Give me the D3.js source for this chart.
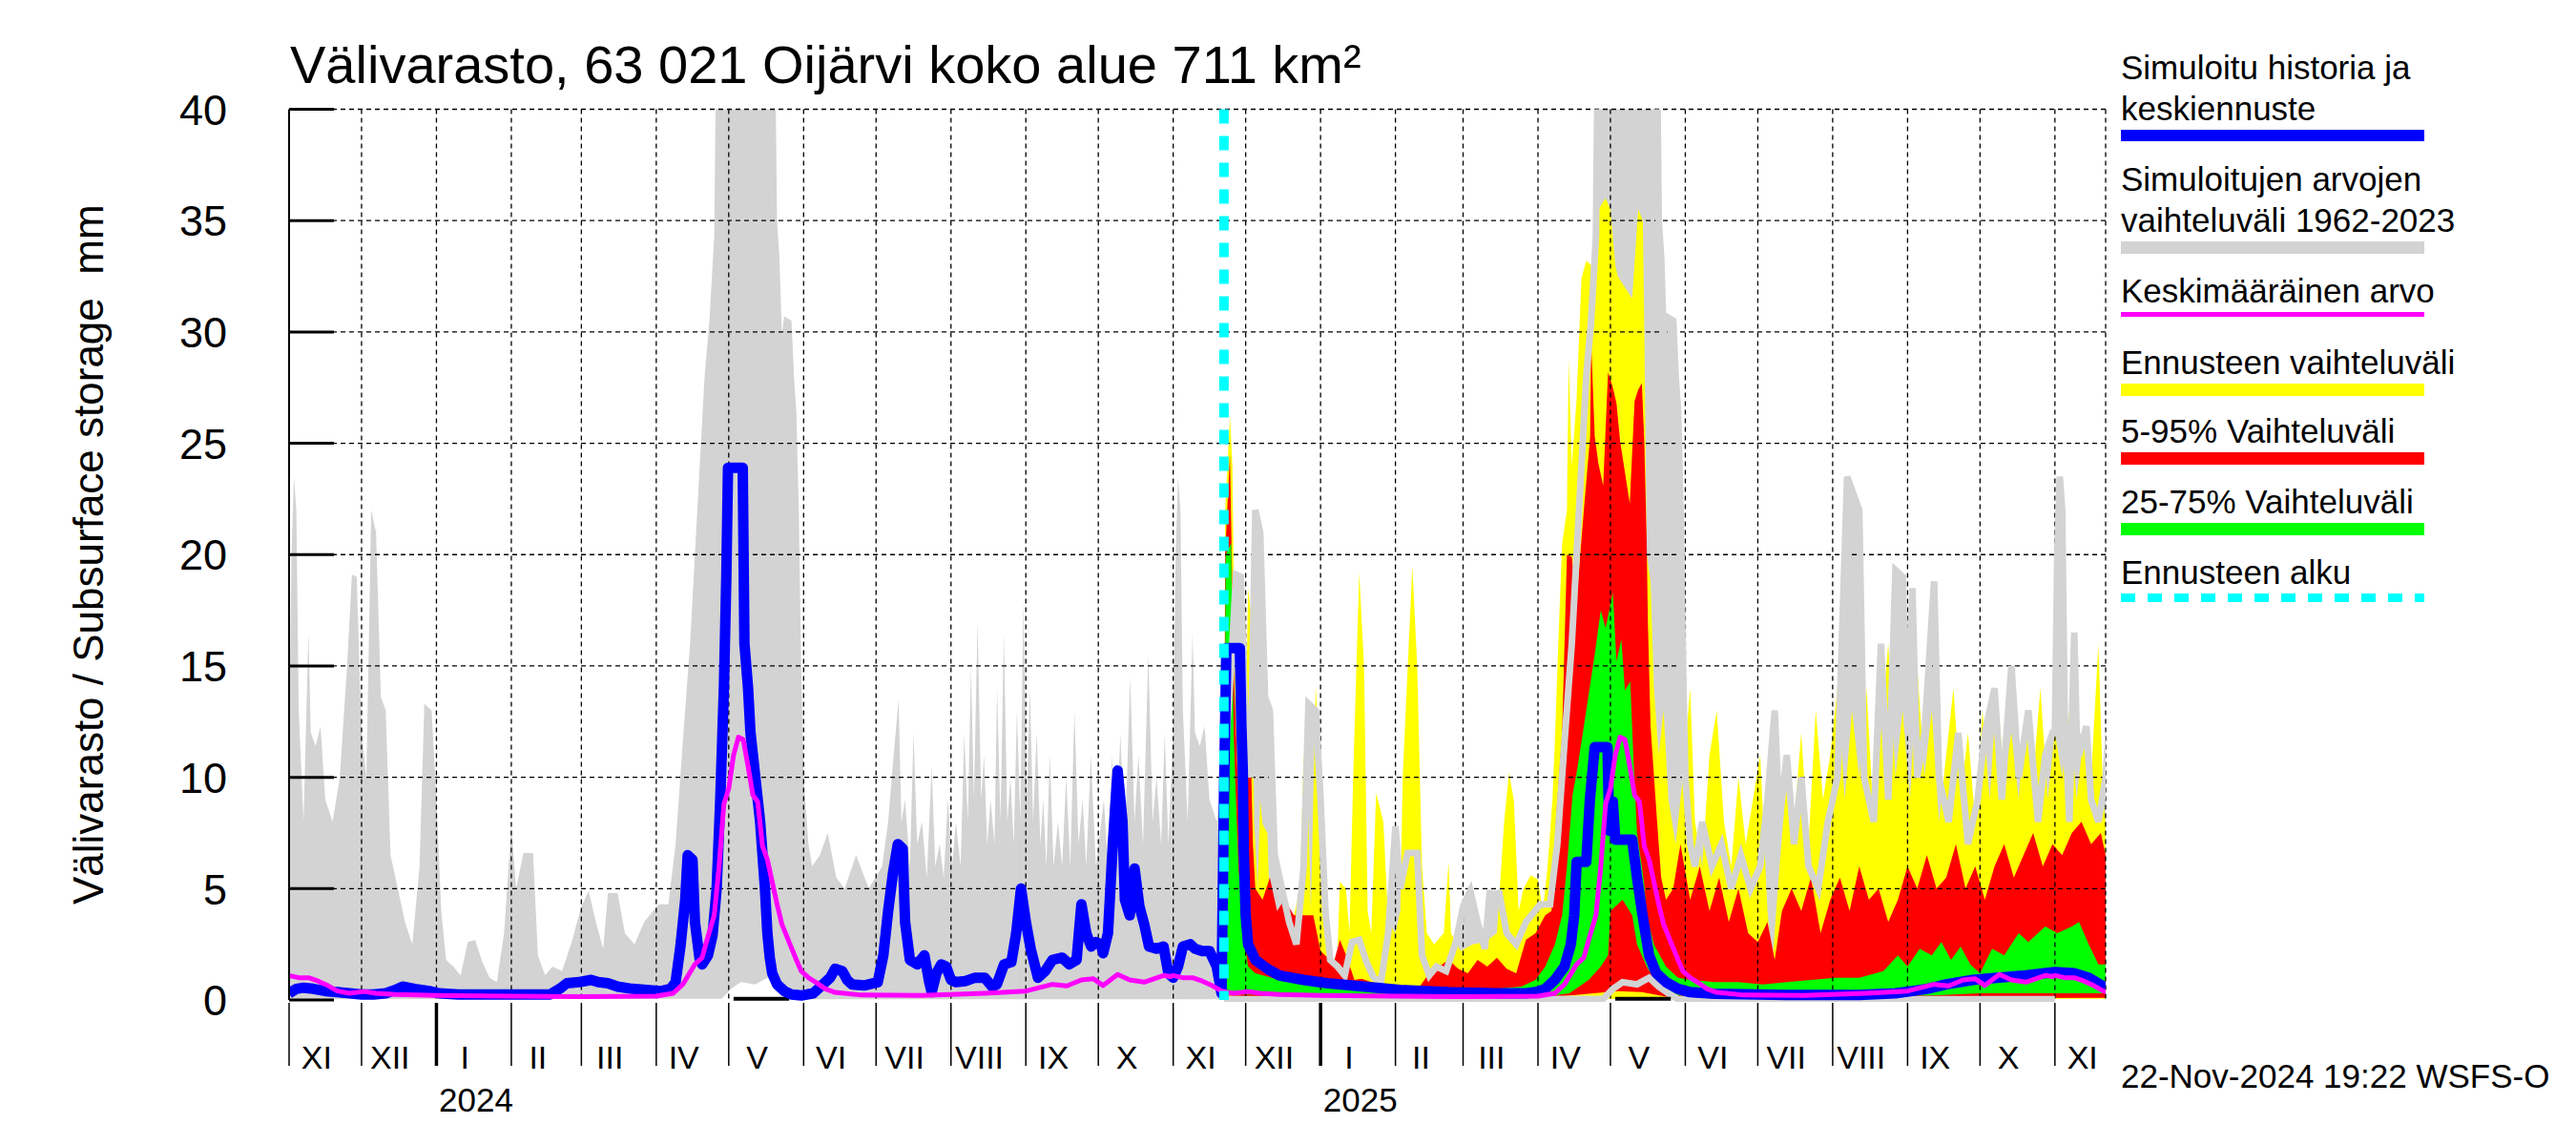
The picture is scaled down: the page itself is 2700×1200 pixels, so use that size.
<!DOCTYPE html>
<html><head><meta charset="utf-8">
<script src="https://cdn.jsdelivr.net/npm/d3@7/dist/d3.min.js"></script>
<style>body{margin:0;background:#fff}svg{display:block}text{font-family:"Liberation Sans",Arial,Helvetica,sans-serif;fill:#000;white-space:pre}</style>
</head><body><svg id="c" width="2700" height="1200"></svg>
<script>
// ---------------- DATA ----------------
const titleText = "Välivarasto, 63 021 Oijärvi koko alue 711 km²";
const yTitle = "Välivarasto / Subsurface storage  mm";
const stamp = "22-Nov-2024 19:22 WSFS-O";
const yTicks = [0,5,10,15,20,25,30,35,40];
const monthNames = ["I","II","III","IV","V","VI","VII","VIII","IX","X","XI","XII"];
const forecastStartDay = 387;           // days after 1 Nov 2023
const legendLabels = [
  ["Simuloitu historia ja","keskiennuste"],
  ["Simuloitujen arvojen","vaihteluväli 1962-2023"],
  ["Keskimääräinen arvo"],
  ["Ennusteen vaihteluväli"],
  ["5-95% Vaihteluväli"],
  ["25-75% Vaihteluväli"],
  ["Ennusteen alku"]
];
// range of simulated values, Nov–early June (month, day, value), repeats each season
const grayMaxWinter = [[11,1,12],[11,2,20],[11,3,23.5],[11,4,22],[11,5,13],[11,7,8],[11,9,16.5],[11,10,12],[11,12,11.4],[11,14,12.3],[11,16,9],[11,19,8],[11,22,10],[11,25,15],[11,27,19.1],[11,29,19],[12,1,12],[12,3,10],[12,5,22],[12,7,21],[12,9,13.6],[12,11,13],[12,13,6.5],[12,16,5],[12,19,3.5],[12,22,2.5],[12,25,6],[12,27,13.3],[12,30,13],[1,1,9],[1,3,4],[1,5,1.8],[1,8,1.5],[1,11,1.1],[1,14,2.6],[1,17,2.7],[1,20,1.7],[1,23,1.0],[1,26,0.8],[1,29,3],[2,1,7.8],[2,3,5],[2,6,6.6],[2,10,6.6],[2,12,2],[2,15,1.1],[2,18,1.5],[2,22,1.3],[2,26,2.6],[3,1,4.2],[3,4,4.9],[3,7,3.5],[3,10,2.3],[3,12,4.8],[3,16,4.8],[3,19,3],[3,23,2.5],[3,27,3.5],[4,2,4.3],[4,6,4.3],[4,9,7],[4,12,11.6],[4,15,16],[4,17,20],[4,19,24],[4,21,28],[4,23,30.5],[4,24,32.4],[4,25,34.3],[4,26,45],[5,20,45],[5,21,35],[5,22,33.3],[5,23,29.9],[5,24,30.7],[5,27,30.5],[5,28,28],[5,29,26.4],[5,30,22],[5,31,15],[6,1,10],[6,3,7]];
// summer–autumn 2024 upper edge (day after 1 Nov 2023, value)
const grayMaxSummer2024 = [[216.5,6],[219.7,6.5],[223,7.5],[226.5,5.5],[230,5],[234.7,6.5],[240,5],[245.5,6],[248,8],[249.5,10],[252.3,13.5],[253.5,8],[255,9],[257,6],[258.5,12],[260,7],[262,8],[264,5.5],[266,10.5],[267.5,6],[269.3,7],[271,5.5],[272.7,9],[274.5,6],[276,8],[278,6],[279.5,12],[281,8],[282.3,15],[283.5,9],[285,17],[286.5,9],[287.7,11],[289,7],[290.4,9],[292,7],[293.1,14],[294.5,8],[295.9,16.5],[297.3,8],[298.6,10],[300,7],[301.3,13],[302.7,8],[304,18],[305.4,9],[306.7,14],[308,8],[309.5,12],[311,7],[312.2,9],[313.5,6],[314.9,11],[316.5,6],[318.3,8],[320,6],[321.7,10],[323.4,6],[325.1,13],[326.8,7],[328.5,9],[330,6],[331.9,11],[334,6],[337.3,9],[339,6],[340.7,11],[342.4,7],[344.1,12],[346,7],[348.2,14.5],[350,8],[351.6,11],[353.5,7],[355.7,15.5],[357.5,8],[359.1,10],[361,7],[362.5,12],[364,7],[365.5,11]];
// summer–autumn 2025 upper edge (month, day, value)
const grayMaxSummer2025 = [[6,5,6],[6,8,8],[6,12,6],[6,16,7],[6,20,5],[6,24,6.5],[6,28,5],[7,2,6],[7,5,9],[7,8,13],[7,10,8],[7,13,11],[7,16,7],[7,19,10],[7,22,6],[7,26,5],[7,30,8],[8,3,10],[8,7,23.5],[8,12,22],[8,14,10],[8,18,8],[8,21,16],[8,24,9],[8,27,19.3],[8,30,19],[9,1,12],[9,3,18.5],[9,5,10],[9,8,12],[9,12,18.8],[9,14,10],[9,18,8],[9,22,12],[9,26,7],[9,30,9],[10,3,12],[10,7,14],[10,10,9],[10,14,15],[10,17,10],[10,21,13],[10,25,8],[10,28,11],[10,31,12]];
const grayMinClim = [[11,1,0.03],[4,28,0.05],[5,2,0.5],[5,6,0.8],[5,12,0.7],[5,17,1.0],[5,21,0.6],[5,25,0.3],[5,29,0.03],[10,31,0.03]];
const meanClim = [[11,1,1.1],[11,5,1.0],[11,9,1.0],[11,13,0.85],[11,17,0.65],[11,21,0.4],[11,26,0.3],[12,2,0.38],[12,7,0.3],[12,15,0.25],[1,1,0.2],[2,1,0.17],[3,1,0.15],[4,1,0.17],[4,8,0.3],[4,12,0.7],[4,17,1.6],[4,20,1.9],[4,22,2.7],[4,25,3.8],[4,27,6],[4,29,8.8],[5,1,9.5],[5,3,11],[5,5,11.8],[5,7,11.7],[5,9,10.5],[5,11,9.2],[5,13,8.9],[5,15,6.9],[5,17,6.3],[5,19,5.3],[5,21,4.3],[5,23,3.4],[5,26,2.6],[5,29,1.8],[5,31,1.3],[6,3,1.0],[6,6,0.8],[6,10,0.5],[6,14,0.34],[6,25,0.22],[7,20,0.2],[8,15,0.3],[9,1,0.4],[9,12,0.7],[9,18,0.63],[9,24,0.9],[9,29,0.95],[10,3,0.65],[10,9,1.15],[10,14,0.9],[10,20,0.8],[10,28,1.1],[10,31,1.05]];
const blackClim = [[5,3,0.05],[5,26,0.05]];
// simulated history + median forecast (day after 1 Nov 2023, value)
const blueSeries = [[0,0.3],[3,0.5],[6,0.55],[10,0.5],[15,0.4],[20,0.35],[25,0.3],[30,0.25],[35,0.25],[40,0.3],[44,0.45],[47,0.6],[52,0.5],[58,0.4],[62,0.3],[70,0.25],[80,0.25],[90,0.25],[100,0.25],[108,0.25],[112,0.5],[115,0.75],[120,0.8],[125,0.9],[128,0.8],[132,0.75],[136,0.6],[142,0.5],[148,0.45],[154,0.4],[158,0.5],[160,0.8],[162,2.4],[164,4.5],[165,6.5],[167,6.3],[168,3.5],[170,1.8],[171,1.6],[173.4,2.0],[175.3,2.9],[177,5],[178.5,9],[180,14],[181,19],[181.7,23.9],[187.8,23.9],[188.5,16],[190,14],[191,12],[193,10],[195,8],[196,6.5],[197,5],[198,3],[199,1.9],[200,1.2],[202,0.7],[205,0.4],[208,0.25],[212,0.2],[217,0.3],[220,0.6],[224,1.0],[226,1.4],[229,1.3],[231,0.9],[233,0.7],[238,0.65],[243.7,0.8],[246,2],[248,4],[250,5.7],[252,7],[254,6.8],[255,3.5],[257,1.8],[260,1.6],[263,2.0],[265,0.8],[266,0.35],[268,1.2],[270,1.6],[272,1.5],[274,0.9],[276,0.8],[280,0.85],[284,1.0],[288,1.0],[291,0.6],[293,0.7],[296,1.6],[299,1.7],[301,3],[303,5],[305,3.5],[307,2.3],[310,1.0],[313,1.3],[316,1.8],[320,1.9],[323,1.6],[326,1.8],[328,4.3],[330,3.0],[332,2.4],[334,2.6],[336,2.5],[337,2.1],[339,3],[341,7],[343,10.3],[345,8],[346,4.5],[348,3.8],[350,5.9],[352,4.2],[354,3.4],[356,2.4],[359,2.3],[362,2.4],[364,1.2],[366,1.0],[368,1.5],[370,2.4],[373,2.5],[375,2.3],[378,2.2],[381,2.2],[384,1.5],[386,0.3],
 [387,9],[388,15.8],[393.6,15.8],[394.2,12.4],[394.8,10.3],[395.2,6.8],[396,3.8],[397,2.5],[400,1.8],[405,1.4],[410,1.1],[420,0.9],[430,0.75],[445,0.6],[460,0.45],[480,0.35],[500,0.3],[512,0.3],[516,0.35],[520,0.5],[524,0.9],[528,1.5],[530.6,2.5],[532,3.8],[533,6.2],[537,6.2],[538.5,9],[540.5,11.35],[545.8,11.35],[546.5,7.6],[548,8.9],[549,7.2],[556,7.2],[558,5.5],[560.3,3.8],[563,2.0],[566,1.2],[570,0.8],[575,0.5],[580,0.35],[590,0.28],[620,0.22],[650,0.22],[665,0.3],[672,0.4],[678,0.5],[686,0.7],[697,0.9],[707,1.0],[719,1.1],[731,1.25],[739,1.2],[745,1.0],[752,0.55]];
// forecast bands (day, value)
const yelHi = [[387,0.3],[387.5,22],[389.5,26.2],[390.5,24],[391.5,15],[393,10],[395,8],[396,12],[397,18.5],[398.5,17],[399.5,8],[401,5],[402,9],[403,7.9],[405,7.5],[406,4],[408,3.5],[410,3.8],[413,3.2],[416,3.8],[418.5,5],[420,11.1],[422,8],[423,4],[425,14.1],[427,10],[428,4],[431,1.6],[434,2],[435,5.3],[437.5,5],[439,3],[440.5,10],[443,19.2],[445,15],[446.5,4],[448,3],[450,9.3],[453,8],[455,3.5],[458,3],[460,4],[461,10],[465,19.5],[467,15],[469,6],[471,3],[474,2.5],[478,3],[480,6.2],[481,3],[485,2.2],[490,2.5],[495,2.6],[500,3],[503,8],[505,10.2],[507,9],[509,4],[511,5],[514,5.6],[517,5.4],[519,4],[521,6],[523,9],[524,11.6],[525.5,16.3],[527,20.5],[529,22],[529.7,28.8],[531,24],[533,27],[535,32.4],[537,33.2],[539,33],[540,30],[542,35.5],[545,36],[547,35.5],[549,33],[550,32.5],[553,32],[556,31.5],[558.5,35.5],[560.4,35],[561,30.4],[562,20],[563.6,18.8],[565,14],[567,11],[569,13],[571,9],[574,7],[577,10],[580,14],[582,8],[585,6],[588,11],[591,13],[594,8],[597,6],[600,10],[603,7],[606,9],[609,11],[612,4],[614,1.6],[617,6],[620,10],[623,8],[626,12],[629,7],[632,13],[635,9],[638,11],[641,14],[644,9],[647,13],[650,10],[653,14],[656,8],[659,12],[662,16],[665,10],[668,13],[671,9],[674,15],[677,10],[680,13],[683,8],[686,11],[689,14],[692,9],[695,12],[698,8],[701,13],[704,9],[707,14],[710,10],[713,12],[716,9],[719,13],[722,10],[725,14],[728,9],[731,12],[734,10],[737,13],[740,9],[743,12],[746,10],[749,16],[751,9],[752,8]];
const yelLo = [[387,0.05],[752,0.05]];
const redHi = [[387,0.3],[387.5,20],[389.5,24.5],[391,15],[393,9],[395,6],[396.5,8],[397.5,13.9],[399,7],[400,5],[403,4.5],[406,5.5],[409,4],[412,4.5],[416,3.8],[420,3.8],[424,3.8],[427,2.2],[430,1.9],[432,1.5],[435,2.7],[438,1.9],[441,0.9],[444,0.95],[448,0.8],[452,0.6],[456,0.45],[460,0.4],[464,0.45],[468,0.6],[472,1.2],[476,1.5],[480,1.8],[484,1.4],[488,1.2],[492,1.8],[496,1.5],[500,1.9],[504,1.4],[508,1.2],[512,2.7],[516,3.0],[520,3.8],[522.6,4],[524.5,8.2],[527,12],[529,20],[531,19.9],[533,18],[536,22],[538.6,25.3],[539,29.6],[540.5,25.3],[542,24.1],[544,23.1],[546,28.2],[548,27.5],[549.5,26.8],[551,25.1],[553,23.7],[555,22.3],[557,26.9],[558.5,27.4],[560,27.7],[561,25.1],[562,20.6],[562.5,17],[563.6,12.3],[566.2,8.2],[568,5.5],[570,4.5],[573,5],[576,7],[580,4.5],[584,6],[588,4],[592,5.5],[596,3.5],[600,5],[604,3],[608,2.6],[612,3.5],[615,1.8],[618,4],[622,5],[626,4],[630,5.5],[634,3],[638,4.5],[642,5.5],[646,4],[650,6],[654,4.5],[658,5],[662,3.5],[666,4.5],[670,6],[674,5],[678,6.5],[682,5],[686,5.5],[690,7],[694,5],[698,6],[702,4.5],[706,6],[710,7],[714,5.5],[718,6.5],[722,7.5],[726,6],[730,7],[734,6.5],[738,7.5],[742,8],[746,7],[750,7.5],[752,6.5]];
const redLo = [[387,0.2],[400,0.15],[450,0.1],[520,0.1],[540,0.3],[550,0.4],[560,0.35],[570,0.15],[600,0.08],[752,0.1]];
const grnHi = [[387,0.3],[387.7,20],[390,20.5],[391,12],[393,6],[395,3],[397,1.5],[400,1.2],[410,0.9],[420,0.7],[440,0.6],[460,0.5],[480,0.5],[500,0.5],[510,0.6],[516,0.9],[520,1.5],[524,2.5],[527,3.8],[529,6],[531.3,9.2],[533,10.2],[536,12.3],[540.6,15.6],[543,17.5],[545,16.7],[548,18.3],[549.5,15.2],[551.5,16.2],[553,13.9],[555.2,14.3],[556.5,10.9],[558,7.5],[560,6],[561,5.2],[562,3.8],[565,2.5],[570,1.5],[575,1.0],[580,0.9],[590,0.8],[600,0.8],[610,0.7],[620,0.8],[630,0.9],[640,1.0],[650,1.0],[660,1.3],[666,2.0],[670,1.5],[675,2.3],[680,2.0],[684,2.6],[688,1.8],[692,2.4],[696,1.6],[700,1.2],[705,2.3],[710,2.0],[716,3.0],[720,2.6],[727,3.3],[732,3.0],[738,3.3],[741,3.5],[745,2.5],[749,1.6],[752,1.6]];
const grnLo = [[387,0.25],[400,0.25],[450,0.2],[520,0.15],[530,0.3],[538,0.9],[543,1.5],[546,2.0],[547,4.0],[552,4.5],[556,3.8],[558,2.5],[562,1.5],[566,0.8],[570,0.4],[575,0.2],[620,0.15],[680,0.2],[700,0.3],[752,0.3]];

// ---------------- CHART ----------------
const M = {left:303, right:2207, top:114.5, bottom:1048};
const t0 = Date.UTC(2023,10,1), t1 = Date.UTC(2025,10,22);
const DAY = 864e5;
const x = d3.scaleUtc().domain([t0,t1]).range([M.left,M.right]);
const y = d3.scaleLinear().domain([0,40]).range([M.bottom,M.top]);
const svg = d3.select("#c");
const fromDay = d => t0 + d*DAY;
const P = arr => arr.map(([d,v]) => [fromDay(d), v]);
const calYear = (arr, Y) => arr.map(([m,d,v]) => [Date.UTC(m>=11?Y:Y+1,m-1,d), v]);
function clim(arr){
  let out=[];
  for (const Y of [2023,2024,2025]) out = out.concat(calYear(arr,Y));
  return out.sort((a,b)=>a[0]-b[0]).filter(p=>p[0]>=t0-40*DAY && p[0]<=t1+40*DAY);
}
const line = d3.line().x(p=>x(p[0])).y(p=>y(p[1]));
const band = (hi,lo) => line(hi.concat(lo.slice().reverse())) + "Z";

const defs = svg.append("defs");
defs.append("clipPath").attr("id","plot").append("rect")
  .attr("x",M.left).attr("y",M.top).attr("width",M.right-M.left).attr("height",M.bottom-M.top+2);
const tf = fromDay(forecastStartDay);
defs.append("clipPath").attr("id","fc").append("rect")
  .attr("x",x(tf)).attr("y",M.top).attr("width",M.right-x(tf)).attr("height",M.bottom-M.top+2);

const g = svg.append("g").attr("clip-path","url(#plot)");
const GRAY="#d3d3d3";
const gMax = clim(grayMaxWinter).concat(P(grayMaxSummer2024), calYear(grayMaxSummer2025,2024))
  .sort((a,b)=>a[0]-b[0]);
const gMin = clim(grayMinClim);
g.append("path").attr("d",band(gMax,gMin)).attr("fill",GRAY);
g.append("path").attr("d",band(P(yelHi),P(yelLo))).attr("fill","#ffff00");
g.append("path").attr("d",band(P(redHi),P(redLo))).attr("fill","#ff0000");
g.append("path").attr("d",band(P(grnHi),P(grnLo))).attr("fill","#00ff00");

// grid
const grid = svg.append("g").attr("stroke","#000").attr("stroke-width",1.3).attr("stroke-dasharray","5,4");
yTicks.filter(v=>v>0).forEach(v=>grid.append("line").attr("x1",M.left).attr("x2",M.right).attr("y1",y(v)).attr("y2",y(v)));
d3.utcMonth.range(Date.UTC(2023,11,1), t1).concat([t1])
  .forEach(t=>grid.append("line").attr("x1",x(t)).attr("x2",x(t)).attr("y1",M.top).attr("y2",M.bottom));

// gray edges over forecast bands
const gf = svg.append("g").attr("clip-path","url(#fc)").append("g").attr("clip-path","url(#plot)");
gf.append("path").attr("d",line(gMax)).attr("fill","none").attr("stroke",GRAY).attr("stroke-width",7);
gf.append("path").attr("d",line(gMin)).attr("fill","none").attr("stroke",GRAY).attr("stroke-width",7);

const g2 = svg.append("g").attr("clip-path","url(#plot)");
const bl = clim(blackClim);
for (let i=0;i+1<bl.length;i+=2) g2.append("path").attr("d",line([bl[i],bl[i+1]])).attr("stroke","#000").attr("stroke-width",4).attr("fill","none");
g2.append("path").attr("d",line(P(blueSeries))).attr("fill","none").attr("stroke","#0000ff").attr("stroke-width",11).attr("stroke-linejoin","round");
g2.append("path").attr("d",line(clim(meanClim))).attr("fill","none").attr("stroke","#ff00ff").attr("stroke-width",5).attr("stroke-linejoin","round");
svg.append("line").attr("x1",x(tf)).attr("x2",x(tf)).attr("y1",M.top).attr("y2",M.bottom)
  .attr("stroke","#00ffff").attr("stroke-width",10).attr("stroke-dasharray","15,13");

// y axis
svg.append("line").attr("x1",M.left).attr("x2",M.left).attr("y1",M.top).attr("y2",M.bottom).attr("stroke","#000").attr("stroke-width",2);
yTicks.forEach(v=>{
  svg.append("line").attr("x1",M.left).attr("x2",M.left+47).attr("y1",y(v)).attr("y2",y(v)).attr("stroke","#000").attr("stroke-width",3);
  svg.append("text").attr("x",238).attr("y",y(v)).attr("dy","0.36em").attr("text-anchor","end").attr("font-size",45).text(v);
});
svg.append("text").attr("transform",`translate(108,${(M.top+M.bottom)/2}) rotate(-90)`).attr("text-anchor","middle").attr("font-size",44).text(yTitle);
svg.append("text").attr("x",304).attr("y",87).attr("font-size",56).text(titleText);

// x axis: month ticks & labels
d3.utcMonth.range(t0, t1).forEach(t=>{
  const isYear = new Date(t).getUTCMonth()===0;
  svg.append("line").attr("x1",x(t)).attr("x2",x(t)).attr("y1",M.bottom+3).attr("y2",1117).attr("stroke","#000").attr("stroke-width",isYear?3.5:1.5);
  const next = d3.utcMonth.offset(t,1);
  svg.append("text").attr("x",x(t)+0.38*(x(next)-x(t))).attr("y",1120).attr("text-anchor","middle").attr("font-size",34).text(monthNames[new Date(t).getUTCMonth()]);
  if (isYear) svg.append("text").attr("x",x(t)+0.53*(x(next)-x(t))).attr("y",1165).attr("text-anchor","middle").attr("font-size",35).text(new Date(t).getUTCFullYear());
});
svg.append("text").attr("x",2223).attr("y",1140).attr("font-size",35).text(stamp);

// legend
const legColors = ["#0000ff",GRAY,"#ff00ff","#ffff00","#ff0000","#00ff00","#00ffff"];
const legBase = [83,200,317,392,464,538,612];
const legH = [12,13,5,13,13,13,9];
legendLabels.forEach((lines,i)=>{
  lines.forEach((s,j)=>svg.append("text").attr("x",2223).attr("y",legBase[i]+j*43).attr("font-size",35).text(s));
  const yb = legBase[i]+(lines.length-1)*43+10;
  const r = svg.append("line").attr("x1",2223).attr("x2",2541).attr("y1",yb+legH[i]/2).attr("y2",yb+legH[i]/2)
    .attr("stroke",legColors[i]).attr("stroke-width",legH[i]);
  if (i===6) r.attr("stroke-dasharray","15,13");
});
</script></body></html>
